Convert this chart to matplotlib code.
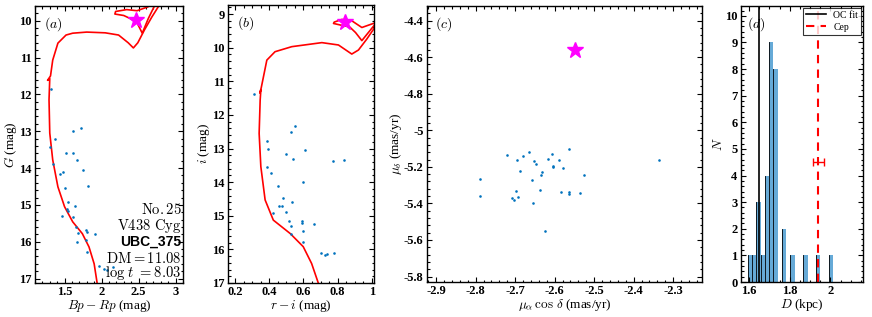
import numpy as np
import matplotlib
matplotlib.use('Agg')
import matplotlib.pyplot as plt
from matplotlib.ticker import AutoMinorLocator, MultipleLocator, FixedLocator

plt.rcParams['mathtext.fontset'] = 'cm'
plt.rcParams['font.family'] = 'Liberation Serif'
plt.rcParams['xtick.direction'] = 'in'
plt.rcParams['ytick.direction'] = 'in'
plt.rcParams['xtick.top'] = True
plt.rcParams['ytick.right'] = True
plt.rcParams['xtick.minor.visible'] = True
plt.rcParams['ytick.minor.visible'] = True
plt.rcParams['xtick.major.size'] = 3.5
plt.rcParams['ytick.major.size'] = 3.5
plt.rcParams['xtick.minor.size'] = 1.8
plt.rcParams['ytick.minor.size'] = 1.8
plt.rcParams['xtick.major.pad'] = 2.5
plt.rcParams['ytick.major.pad'] = 2.5
plt.rcParams['axes.linewidth'] = 1.0

# ---- panel (a): Gaia CMD ----
a_bprp = [1.32, 1.72, 1.62, 1.37, 1.30, 1.52, 1.62, 1.67, 1.34, 1.75, 1.44, 1.48,
          1.82, 1.50, 1.55, 1.64, 1.53, 1.54, 1.47, 1.62, 1.66, 1.79, 1.68, 1.81,
          1.91, 1.79, 1.67, 1.81, 1.96, 2.03, 2.07, 2.16]
a_g = [11.86, 12.91, 12.99, 13.21, 13.42, 13.60, 13.59, 13.77, 13.90, 14.06, 14.15, 14.12,
       14.49, 14.54, 14.91, 15.03, 15.12, 15.16, 15.31, 15.34, 15.61, 15.67, 15.76, 15.73,
       15.78, 15.94, 16.00, 16.29, 16.67, 16.73, 16.77, 16.68]
a_iso_x = [1.94, 1.90, 1.83, 1.74, 1.61, 1.50, 1.41, 1.34, 1.30, 1.29, 1.30, 1.27, 1.31,
           1.34, 1.41, 1.52, 1.61, 1.80, 2.05, 2.23, 2.36, 2.43, 2.49, 2.58, 2.68, 2.78]
a_iso_y = [17.12, 16.60, 16.14, 15.78, 15.46, 15.05, 14.51, 13.78, 13.05, 12.15, 11.57, 11.62, 11.50,
           11.07, 10.61, 10.39, 10.34, 10.31, 10.33, 10.39, 10.60, 10.74, 10.60, 10.25, 9.90, 9.58]
a_loop_x = [2.72, 2.63, 2.55, 2.47, 2.30, 2.18, 2.19, 2.34, 2.48, 2.62, 2.70]
a_loop_y = [9.58, 9.95, 10.34, 10.02, 9.86, 9.82, 9.75, 9.70, 9.73, 9.63, 9.55]
a_star = (2.46, 9.97)

# ---- panel (b): r-i CMD ----
b_ri = [0.313, 0.551, 0.528, 0.389, 0.395, 0.497, 0.610, 0.538, 0.772, 0.840, 0.389, 0.409,
        0.596, 0.454, 0.479, 0.532, 0.457, 0.473, 0.420, 0.499, 0.518, 0.590, 0.592, 0.528,
        0.662, 0.596, 0.528, 0.600, 0.703, 0.727, 0.740, 0.780]
b_i = [11.39, 12.33, 12.52, 12.78, 13.02, 13.16, 13.05, 13.32, 13.37, 13.33, 13.56, 13.74,
       14.00, 14.12, 14.48, 14.58, 14.71, 14.71, 14.91, 14.89, 15.15, 15.16, 15.23, 15.30,
       15.25, 15.46, 15.55, 15.79, 16.12, 16.17, 16.15, 16.10]
b_iso_x = [0.687, 0.648, 0.599, 0.523, 0.424, 0.376, 0.351, 0.341, 0.347, 0.351, 0.345, 0.353,
           0.386, 0.434, 0.532, 0.708, 0.805, 0.883, 0.922, 0.970, 1.02]
b_iso_y = [17.0, 16.42, 15.92, 15.53, 15.13, 14.53, 13.54, 12.55, 11.56, 11.26, 11.35, 11.20,
           10.37, 10.12, 9.97, 9.85, 9.92, 10.19, 10.07, 9.75, 9.38]
b_loop_x = [1.02, 0.980, 0.942, 0.905, 0.870, 0.820, 0.776, 0.780, 0.825, 0.883, 0.942, 1.02]
b_loop_y = [9.30, 9.55, 9.79, 9.55, 9.38, 9.33, 9.28, 9.24, 9.16, 9.20, 9.40, 9.26]
b_star = (0.845, 9.24)

# ---- panel (c): proper motions ----
c_pmra = [-2.789, -2.789, -2.720, -2.696, -2.679, -2.664, -2.652, -2.648, -2.687, -2.658, -2.632,
          -2.635, -2.616, -2.607, -2.605, -2.605, -2.590, -2.579, -2.563, -2.525, -2.697, -2.693,
          -2.708, -2.704, -2.637, -2.654, -2.584, -2.563, -2.563, -2.535, -2.624, -2.335]
c_pmdec = [-5.264, -5.358, -5.133, -5.165, -5.142, -5.118, -5.168, -5.182, -5.224, -5.273, -5.228,
           -5.246, -5.155, -5.131, -5.195, -5.200, -5.164, -5.209, -5.105, -5.246, -5.331, -5.364,
           -5.373, -5.382, -5.324, -5.400, -5.340, -5.336, -5.349, -5.345, -5.551, -5.165]
c_star = (-2.548, -4.56)

# ---- panel (d): distance histogram ----
d_edge0 = 1.593
d_width = 0.021
d_counts = [1, 1, 3, 1, 4, 9, 8, 0, 2, 0, 1, 0, 0, 1, 0, 0, 1, 0, 0, 1]
d_oc = 1.650
d_cep = 1.940
d_cep_err = 0.028
d_cep_y = 4.5

blue = '#0072BD'
red = '#FF0000'
mag = '#FF00FF'

fig = plt.figure(figsize=(8.72, 3.17), dpi=100)
axa = fig.add_axes([0.0401, 0.1073, 0.1697, 0.874])
axb = fig.add_axes([0.2615, 0.1073, 0.1674, 0.877])
axc = fig.add_axes([0.4897, 0.1104, 0.3154, 0.8707])
axd = fig.add_axes([0.8498, 0.1104, 0.1399, 0.8707])

LBL = 9.5


def style(ax):
    for lab in ax.get_xticklabels() + ax.get_yticklabels():
        lab.set_fontfamily('Liberation Serif')
        lab.set_fontweight('bold')
        lab.set_fontsize(9)
    ax.tick_params(which='both', width=0.8)


# (a)
axa.plot(a_iso_x, a_iso_y, color=red, lw=1.2)
axa.plot(a_loop_x, a_loop_y, color=red, lw=1.2)
axa.scatter(a_bprp, a_g, s=3.5, color=blue, zorder=3, linewidths=0)
axa.plot(*a_star, marker='*', color=mag, ms=12, zorder=4)
axa.set_xlim(1.1, 3.1)
axa.set_ylim(17.12, 9.6)
axa.xaxis.set_major_locator(FixedLocator([1.5, 2, 2.5, 3]))
axa.set_xticklabels(['1.5', '2', '2.5', '3'])
axa.yaxis.set_major_locator(MultipleLocator(1))
axa.xaxis.set_minor_locator(AutoMinorLocator(5))
axa.yaxis.set_minor_locator(AutoMinorLocator(5))
axa.set_xlabel(r'$Bp-Rp$ (mag)', fontsize=LBL, labelpad=0)
axa.set_ylabel(r'$G$ (mag)', fontsize=LBL, labelpad=0)
axa.text(0.06, 0.965, r'$(a)$', transform=axa.transAxes, fontsize=10, va='top')
ty = [0.264, 0.206, 0.148, 0.090, 0.036]
axa.text(0.99, ty[0], r'$\mathrm{No.25}$', transform=axa.transAxes, ha='right', va='center', fontsize=10.5)
axa.text(0.99, ty[1], r'$\mathrm{V438\ Cyg}$', transform=axa.transAxes, ha='right', va='center', fontsize=10.5)
axa.text(0.99, ty[2], 'UBC_375', transform=axa.transAxes, ha='right', va='center', fontsize=10,
         family='Liberation Sans', weight='bold')
axa.text(0.99, ty[3], r'$\mathrm{DM{=}11.08}$', transform=axa.transAxes, ha='right', va='center', fontsize=10.5)
axa.text(0.99, ty[4], r'$\log\,t\ \mathrm{=}8.03$', transform=axa.transAxes, ha='right', va='center', fontsize=10.5)
style(axa)

# (b)
axb.plot(b_iso_x, b_iso_y, color=red, lw=1.2)
axb.plot(b_loop_x, b_loop_y, color=red, lw=1.2)
axb.scatter(b_ri, b_i, s=3.5, color=blue, zorder=3, linewidths=0)
axb.plot(*b_star, marker='*', color=mag, ms=12, zorder=4)
axb.set_xlim(0.159, 1.013)
axb.set_ylim(17.0, 8.73)
axb.xaxis.set_major_locator(FixedLocator([0.2, 0.4, 0.6, 0.8, 1.0]))
axb.set_xticklabels(['0.2', '0.4', '0.6', '0.8', '1'])
axb.yaxis.set_major_locator(MultipleLocator(1))
axb.xaxis.set_minor_locator(AutoMinorLocator(4))
axb.yaxis.set_minor_locator(AutoMinorLocator(5))
axb.set_xlabel(r'$r-i$ (mag)', fontsize=LBL, labelpad=0)
axb.set_ylabel(r'$i$ (mag)', fontsize=LBL, labelpad=0)
axb.text(0.06, 0.965, r'$(b)$', transform=axb.transAxes, fontsize=10, va='top')
style(axb)

# (c)
axc.scatter(c_pmra, c_pmdec, s=3.5, color=blue, zorder=3, linewidths=0)
axc.plot(*c_star, marker='*', color=mag, ms=12, zorder=4)
axc.set_xlim(-2.923, -2.227)
axc.set_ylim(-5.83, -4.32)
axc.xaxis.set_major_locator(FixedLocator([-2.9, -2.8, -2.7, -2.6, -2.5, -2.4, -2.3]))
axc.yaxis.set_major_locator(FixedLocator([-5.8, -5.6, -5.4, -5.2, -5.0, -4.8, -4.6, -4.4]))
axc.set_yticklabels(['-5.8', '-5.6', '-5.4', '-5.2', '-5', '-4.8', '-4.6', '-4.4'])
axc.set_xticklabels(['-2.9', '-2.8', '-2.7', '-2.6', '-2.5', '-2.4', '-2.3'])
axc.xaxis.set_minor_locator(AutoMinorLocator(5))
axc.yaxis.set_minor_locator(AutoMinorLocator(5))
axc.set_xlabel(r'$\mu_\alpha\,\cos\,\delta$ (mas/yr)', fontsize=LBL, labelpad=0)
axc.set_ylabel(r'$\mu_\delta$ (mas/yr)', fontsize=LBL, labelpad=0)
axc.text(0.03, 0.965, r'$(c)$', transform=axc.transAxes, fontsize=10, va='top')
style(axc)

# (d)
d_left = [d_edge0 + k * d_width for k in range(len(d_counts))]
axd.bar(d_left, d_counts, width=d_width, align='edge', color='#66AAD7', edgecolor='none')
for x0, n in zip(d_left, d_counts):
    if n > 0:
        axd.plot([x0, x0], [0, n], color='k', lw=0.6)
axd.axvline(d_oc, color='k', lw=1.2, label='OC fit')
axd.axvline(d_cep, color=red, lw=1.5, ls=(0, (4, 3)), label='Cep')
axd.errorbar(d_cep, d_cep_y, xerr=d_cep_err, color=red, capsize=3, lw=1.0)
axd.set_xlim(1.56, 2.16)
axd.set_ylim(0, 10.37)
axd.xaxis.set_major_locator(FixedLocator([1.6, 1.8, 2.0]))
axd.set_xticklabels(['1.6', '1.8', '2'])
axd.yaxis.set_major_locator(MultipleLocator(1))
axd.xaxis.set_minor_locator(AutoMinorLocator(4))
axd.yaxis.set_minor_locator(AutoMinorLocator(5))
axd.set_xlabel(r'$D$ (kpc)', fontsize=LBL, labelpad=0)
axd.set_ylabel(r'$N$', fontsize=LBL, labelpad=0)
axd.text(0.05, 0.965, r'$(d)$', transform=axd.transAxes, fontsize=10, va='top')
leg = axd.legend(loc='upper right', fontsize=7, frameon=True, fancybox=False, edgecolor='k',
                 handlelength=2.0, borderpad=0.3, labelspacing=0.3, borderaxespad=0.2)
leg.get_frame().set_linewidth(0.8)
style(axd)

fig.savefig('out.png', dpi=100)
